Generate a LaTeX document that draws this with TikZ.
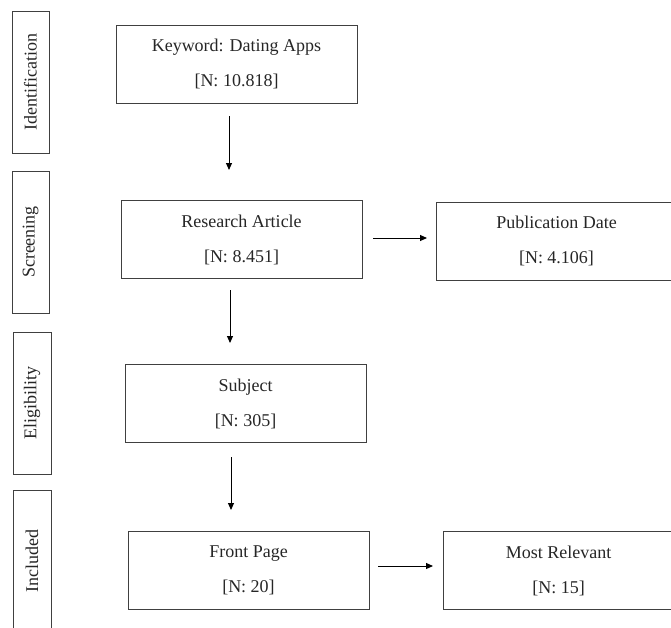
\documentclass[tikz,border=0pt]{standalone}
\usepackage{fontspec}
\setmainfont{Liberation Serif}
\usetikzlibrary{arrows.meta}

\begin{document}
\begin{tikzpicture}[x = 1pt, y = -1pt, font = \fontsize{18}{35}\selectfont,
	box/.style = {draw = black!75, line width = 1pt, minimum width = 241pt, minimum height = 78pt, align = center, inner sep = 0pt, text = black!85},
	phase/.style = {draw = black!75, line width = 1pt, minimum width = 142pt, minimum height = 37pt, rotate = 90, inner sep = 0pt, text = black!85},
	arr/.style = {-{Triangle[length = 7pt, width = 6pt]}, line width = 1pt}]
	\useasboundingbox (0,0) rectangle (671,627);
	\clip (0,0) rectangle (671,627);
	\node [phase] (ident) at (30.5,82) {Identification};
	\node [phase] (screen) at (30.5,242) {Screening};
	\node [phase, minimum height = 38pt] (elig) at (32,403) {Eligibility};
	\node [phase, minimum height = 38pt] (incl) at (32,561) {Included};
	\node [box] (keyword) at (236.5,64) {Keyword: Dating Apps\\{[N: 10.818]}};
	\node [box] (research) at (241.5,239.5) {Research Article\\{[N: 8.451]}};
	\node [box] (pubdate) at (556.5,241) {Publication Date\\{[N: 4.106]}};
	\node [box] (subject) at (245.5,403.5) {Subject\\{[N: 305]}};
	\node [box] (front) at (248.5,570.5) {Front Page\\{[N: 20]}};
	\node [box, minimum width = 231pt] (relevant) at (558.5,570.5) {Most Relevant\\{[N: 15]}};
	\coordinate (kw-out) at (229,116);
	\coordinate (ra-in) at (229,170);
	\coordinate (ra-out) at (230,290);
	\coordinate (sb-in) at (230,343);
	\coordinate (sb-out) at (231,457);
	\coordinate (fp-in) at (231,510);
	\coordinate (ra-side) at (373,238);
	\coordinate (pd-in) at (427,238);
	\coordinate (fp-side) at (378,566);
	\coordinate (mr-in) at (433,566);
	\draw [arr] (kw-out) -- (ra-in);
	\draw [arr] (ra-out) -- (sb-in);
	\draw [arr] (sb-out) -- (fp-in);
	\draw [arr] (ra-side) -- (pd-in);
	\draw [arr] (fp-side) -- (mr-in);
\end{tikzpicture}
\end{document}
